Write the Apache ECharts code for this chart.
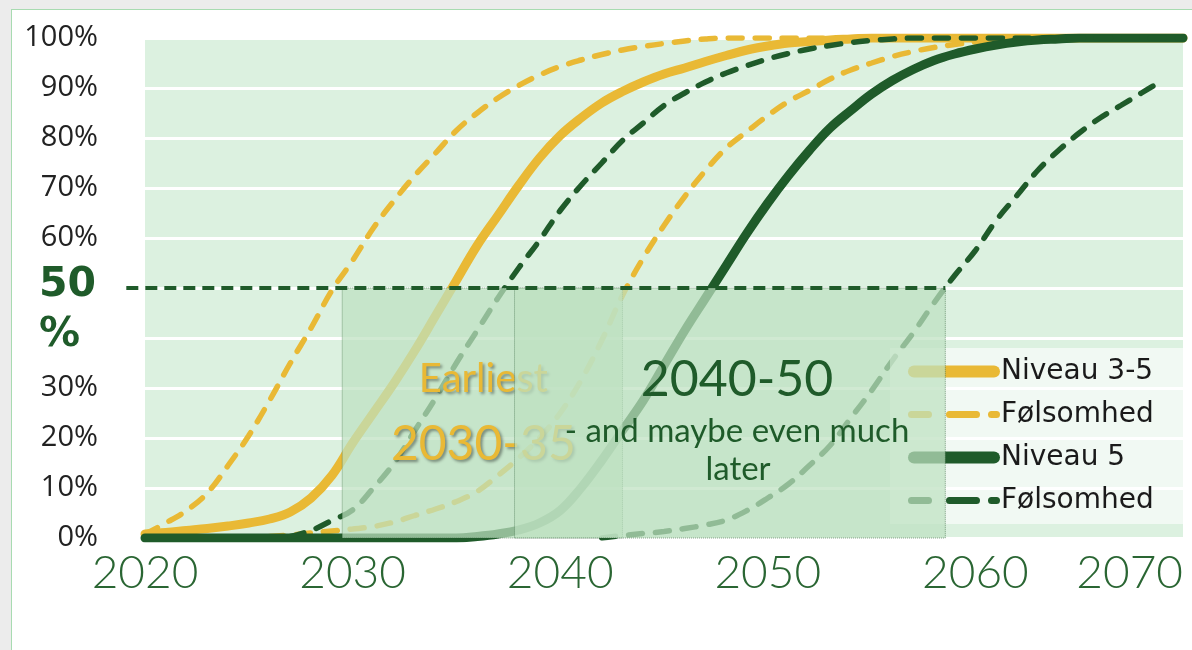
<!DOCTYPE html>
<html>
<head>
<meta charset="utf-8">
<title>Niveau 3-5 / Niveau 5</title>
<script src="https://cdn.jsdelivr.net/npm/echarts/dist/echarts.min.js"></script>
<style>
  html, body { margin: 0; padding: 0; background: #ececec; }
  /* slide frame */
  #frame { position: absolute; left: 11px; top: 9px; width: 1181px; height: 641px;
           background: #fff; border-left: 1px solid #a8dbb1; border-top: 1px solid #a8dbb1; }
  #chart { position: absolute; left: 0; top: 0; width: 1192px; height: 650px; }
</style>
</head>
<body>
<div id="frame"></div>
<div id="chart"></div>
<script>
  // years on the x axis
  var years = [2020, 2021, 2022, 2023, 2024, 2025, 2026, 2027, 2028, 2029,
               2030, 2031, 2032, 2033, 2034, 2035, 2036, 2037, 2038, 2039,
               2040, 2041, 2042, 2043, 2044, 2045, 2046, 2047, 2048, 2049,
               2050, 2051, 2052, 2053, 2054, 2055, 2056, 2057, 2058, 2059,
               2060, 2061, 2062, 2063, 2064, 2065, 2066, 2067, 2068, 2069, 2070];

  // Niveau 3-5 (%)
  var niveau35 = [0.8, 1.1, 1.5, 1.9, 2.4, 3, 3.8, 5.2, 8, 12.5,
                  19, 25, 31, 37.5, 44.5, 51.5, 58.5, 64.5, 70.5, 76,
                  80.5, 84, 87, 89.3, 91.2, 92.8, 94, 95.3, 96.5, 97.6,
                  98.4, 99, 99.3, 99.6, 99.8, 100, 100, 100, 100, 100,
                  100, 100, 100, 100, 100, 100, 100, 100, 100, 100, 100];
  // Følsomhed 3-5, early and late bound
  var folsom35Early = [0.8, 3, 5.5, 9, 14.5, 20.5, 27.5, 35, 42, 49.5,
                       55.5, 62, 67.5, 72.5, 77, 81.5, 85, 88, 90.5, 92.6,
                       94.3, 95.6, 96.7, 97.6, 98.3, 98.9, 99.4, 99.8, 100, 100,
                       100, 100, 100, 100, 100, 100, 100, 100, 100, 100,
                       100, 100, 100, 100, 100, 100, 100, 100, 100, 100, 100];
  var folsom35Late = [null, null, null, null, null, null, 0.3, 0.6, 1, 1.4,
                      1.8, 2.3, 3.2, 4.5, 5.8, 7.3, 9.3, 12.5, 16, 20,
                      25, 31.5, 39.5, 48.5, 56, 62.5, 68.3, 73.5, 78, 81.3,
                      84.5, 87.3, 89.5, 91.8, 93.6, 95, 96.3, 97.3, 98.1, 98.7,
                      99.2, 99.6, 99.9, 100, 100, 100, 100, 100, 100, 100, 100];
  // Niveau 5 (%)
  var niveau5 = [0, 0, 0, 0, 0, 0, 0, 0, 0, 0,
                 0, 0, 0, 0, 0, 0, 0.3, 0.8, 1.6, 3,
                 5.5, 10, 15.5, 21.5, 27.5, 34.5, 41.5, 48, 54.5, 61,
                 67, 72.5, 77.5, 82, 85.5, 88.8, 91.5, 93.7, 95.5, 96.8,
                 97.8, 98.6, 99.2, 99.6, 99.8, 100, 100, 100, 100, 100, 100];
  // Følsomhed 5, early and late bound
  var folsom5Early = [null, null, null, null, null, null, null, 0.3, 1.5, 3.5,
                      5.6, 10, 15, 21.5, 28, 35, 41.5, 48, 54, 59.5,
                      65.5, 70.5, 75, 79.5, 83, 86.5, 89, 91.2, 93, 94.5,
                      95.8, 96.9, 97.8, 98.5, 99.1, 99.5, 99.8, 100, 100, 100,
                      100, 100, 100, 100, 100, 100, 100, 100, 100, 100, 100];
  var folsom5Late = [null, null, null, null, null, null, null, null, null, null,
                     null, null, null, null, null, null, null, null, null, null,
                     null, null, 0, 0.5, 0.9, 1.3, 1.9, 2.6, 3.6, 5.5,
                     8, 10.8, 14.5, 18.5, 24, 29.5, 35.5, 41, 47, 52.5,
                     57.5, 63.5, 68.5, 73.5, 77.5, 81, 84, 86.5, 89, 91.5, null];

  // tick labels
  var yTickLabels = ['0%', '10%', '20%', '30%', '{g|%}', '{g|50}', '60%', '70%', '80%', '90%', '100%'];
  var xTickLabels = {2020: '2020', 2030: '2030', 2040: '2040', 2050: '2050', 2060: '2060', 2070: '2070'};

  // shaded year windows (years) and the 50 % marker line
  var earliestBox = [2029.5, 2043.0];
  var laterBox = [2037.8, 2058.55];
  var halfLine = [2019.1, 2058.55];

  var YELLOW = '#e9b935';
  var GREEN = '#1f5b2a';

  // legend icons: thick rounded bar, and dash - dash - dot
  var ICON_SOLID = 'path://M6,0H86A6,6,0,0,1,86,12H6A6,6,0,0,1,6,0Z';
  var ICON_DASH = 'path://M3.5,0H20.5A3.5,3.5,0,0,1,20.5,7H3.5A3.5,3.5,0,0,1,3.5,0Z' +
                  'M41.5,0H68.5A3.5,3.5,0,0,1,68.5,7H41.5A3.5,3.5,0,0,1,41.5,0Z' +
                  'M83.5,0H88.5A3.5,3.5,0,0,1,88.5,7H83.5A3.5,3.5,0,0,1,83.5,0Z';

  function pairs(vals) {
    return years.map(function (y, i) { return [y, vals[i]]; });
  }

  function curve(name, vals, color, dashed) {
    return {
      name: name,
      type: 'line',
      data: pairs(vals),
      smooth: 0.4,
      symbol: 'none',
      connectNulls: false,
      lineStyle: dashed
        ? {color: color, width: 5.5, type: [14, 13], cap: 'round'}
        : {color: color, width: 9, cap: 'round'},
      itemStyle: {color: color},
      z: 2
    };
  }

  var boxStyle = {
    color: 'rgba(190, 224, 193, 0.72)',
    borderColor: 'rgba(40, 90, 50, 0.55)',
    borderWidth: 1,
    borderType: 'dotted'
  };

  var goldText = {
    fontFamily: 'Lato', color: YELLOW, lineHeight: 65,
    textShadowColor: 'rgba(0, 0, 0, 0.4)', textShadowBlur: 3,
    textShadowOffsetX: 2, textShadowOffsetY: 2
  };

  var myChart = echarts.init(document.getElementById('chart'));
  myChart.setOption({
    animation: false,
    grid: {
      left: 145, right: 9, top: 38, bottom: 112,
      show: true, backgroundColor: '#dcf1e0', borderWidth: 0
    },
    legend: {
      orient: 'vertical',
      left: 890, top: 348,
      padding: [9, 30, 9, 18],
      itemWidth: 92, itemHeight: 12, itemGap: 14,
      backgroundColor: 'rgba(255, 255, 255, 0.6)',
      selectedMode: false,
      z: 5,
      data: [
        {name: 'Niveau 3-5', icon: ICON_SOLID},
        {name: 'Følsomhed 3-5', icon: ICON_DASH},
        {name: 'Niveau 5', icon: ICON_SOLID},
        {name: 'Følsomhed 5', icon: ICON_DASH}
      ],
      formatter: function (name) {
        return name.indexOf('Følsomhed') === 0 ? 'Følsomhed' : name;
      },
      textStyle: {fontFamily: 'DejaVu Sans', fontSize: 28, lineHeight: 29, color: '#1a1a1a', padding: [0, 0, 0, -4]}
    },
    xAxis: {
      type: 'value',
      min: 2020, max: 2070, interval: 10,
      axisLine: {show: false},
      axisTick: {show: false},
      splitLine: {show: false},
      axisLabel: {
        margin: 12,
        fontFamily: 'Lato', fontWeight: 300, fontSize: 46, color: '#2a6633',
        alignMaxLabel: 'right',
        formatter: function (v) { return xTickLabels[v] || ''; }
      }
    },
    yAxis: {
      type: 'value',
      min: 0, max: 100, interval: 10,
      axisLine: {show: false},
      axisTick: {show: false},
      splitLine: {lineStyle: {color: '#ffffff', width: 3}},
      axisLabel: {
        margin: 47,
        fontFamily: 'Open Sans', fontSize: 29, color: '#222222',
        formatter: function (v) { return yTickLabels[Math.round(v / 10)]; },
        rich: {
          g: {fontFamily: 'DejaVu Sans', fontSize: 41, fontWeight: 'bold', color: GREEN,
              width: 59, align: 'left', padding: [0, 0, 6, 0]}
        }
      }
    },
    graphic: [
      // texts of the second window sit on top of everything
      {type: 'text', x: 737, y: 380, z: 7, silent: true,
       style: {text: '2040-50', fontFamily: 'Lato', fontSize: 50, fill: GREEN,
               align: 'center', verticalAlign: 'middle'}},
      {type: 'text', x: 737, y: 431, z: 7, silent: true,
       style: {text: '- and maybe even much', fontFamily: 'Lato', fontSize: 33, fill: GREEN,
               align: 'center', verticalAlign: 'middle'}},
      {type: 'text', x: 738, y: 469, z: 7, silent: true,
       style: {text: 'later', fontFamily: 'Lato', fontSize: 33, fill: GREEN,
               align: 'center', verticalAlign: 'middle'}}
    ],
    series: [
      curve('Niveau 3-5', niveau35, YELLOW, false),
      curve('Følsomhed 3-5', folsom35Early, YELLOW, true),
      curve('Følsomhed 3-5', folsom35Late, YELLOW, true),
      curve('Niveau 5', niveau5, GREEN, false),
      curve('Følsomhed 5', folsom5Early, GREEN, true),
      curve('Følsomhed 5', folsom5Late, GREEN, true),
      {
        // first shaded window, its text is partly covered by the second window
        id: 'earliest', type: 'line', data: [], z: 3, clip: false,
        markArea: {
          silent: true, z: 3,
          itemStyle: boxStyle,
          label: {
            show: true, position: 'inside', offset: [1, -1],
            formatter: '{e|Earliest}\n{n|2030-35}',
            rich: {
              e: Object.assign({fontSize: 40}, goldText),
              n: Object.assign({fontSize: 48}, goldText)
            }
          },
          data: [[{coord: [earliestBox[0], 50]}, {coord: [earliestBox[1], -0.7]}]]
        }
      },
      {
        // second shaded window ("2040-50")
        id: 'later', type: 'line', data: [], z: 6, clip: false,
        markArea: {
          silent: true, z: 6,
          itemStyle: boxStyle,
          data: [[{coord: [laterBox[0], 50]}, {coord: [laterBox[1], -0.7]}]]
        }
      },
      {
        // dashed 50 % line, filled in below
        id: 'half', type: 'line', data: [], z: 8, clip: false
      }
    ]
  });

  // the 50 % line starts left of the plot, so place it in pixels via the axes
  var p0 = myChart.convertToPixel({gridIndex: 0}, [halfLine[0], 50]);
  var p1 = myChart.convertToPixel({gridIndex: 0}, [halfLine[1], 50]);
  myChart.setOption({
    series: [{
      id: 'half',
      markLine: {
        silent: true, z: 8,
        symbol: ['none', 'none'],
        label: {show: false},
        lineStyle: {color: GREEN, width: 4, type: [12, 7]},
        data: [[{x: p0[0], y: p0[1]}, {x: p1[0], y: p1[1]}]]
      }
    }]
  });
</script>
</body>
</html>
